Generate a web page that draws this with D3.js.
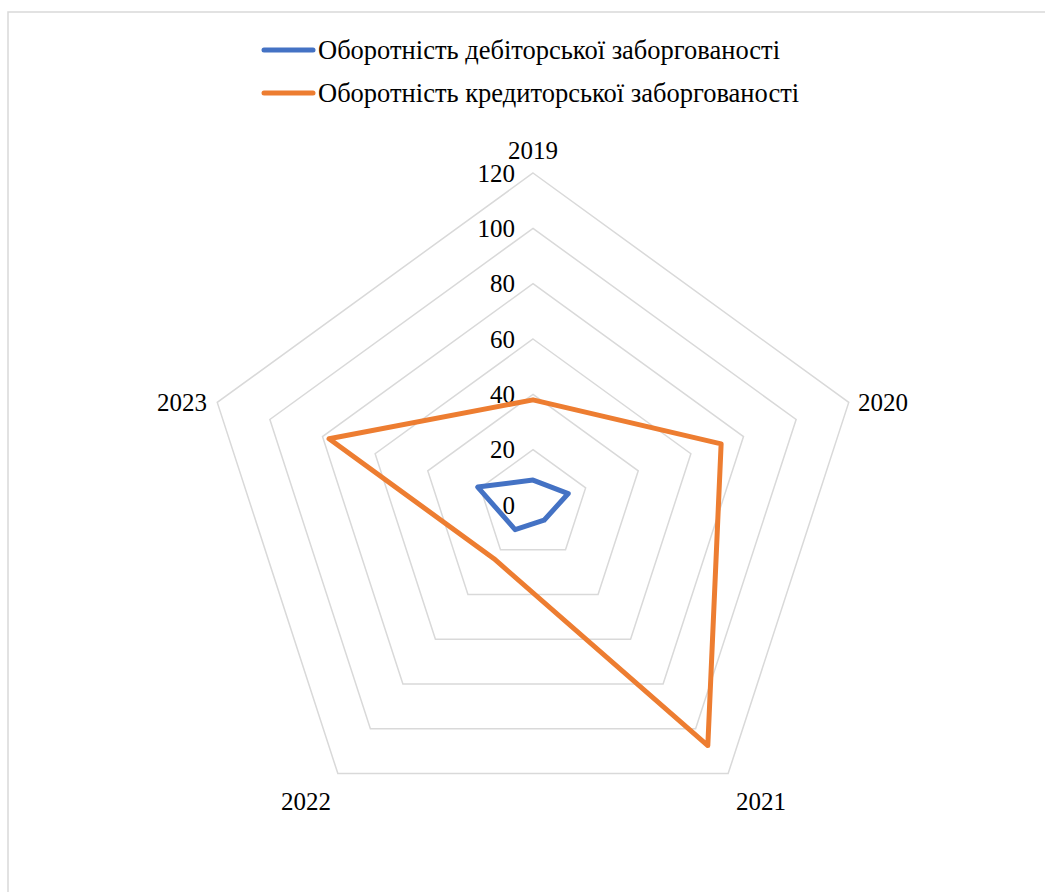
<!DOCTYPE html>
<html>
<head>
<meta charset="utf-8">
<script src="https://cdn.jsdelivr.net/npm/d3@7"></script>
<style>
  body { margin: 0; background: #fff; }
</style>
</head>
<body>
<script>
// дані
const years = ["2019", "2020", "2021", "2022", "2023"];
const seriesNames = ["Оборотність дебіторської заборгованості", "Оборотність кредиторської заборгованості"];
const receivables = [9, 13.4, 6.8, 11, 21];
const payables = [38, 71.5, 107.5, 24, 77.5];
const ticks = [0, 20, 40, 60, 80, 100, 120];
const colors = ["#4472C4", "#ED7D31"];

const width = 1045, height = 892;
const cx = 533, cy = 505, R = 332;
const font = "Liberation Serif";

const svg = d3.select("body").append("svg")
    .attr("width", width)
    .attr("height", height);

// рамка
svg.append("rect")
    .attr("x", 8).attr("y", 12)
    .attr("width", 1100).attr("height", 1000)
    .attr("fill", "none")
    .attr("stroke", "#d9d9d9")
    .attr("stroke-width", 1.5);

const r = d3.scaleLinear().domain([0, 120]).range([0, R]);
const angle = i => i * 2 * Math.PI / years.length;
const pt = (i, v) => [cx + r(v) * Math.sin(angle(i)), cy - r(v) * Math.cos(angle(i))];

// сітка
svg.append("g").selectAll("polygon")
    .data(ticks.filter(t => t > 0))
    .enter()
    .append("polygon")
    .attr("points", t => years.map((d, i) => pt(i, t).join(",")).join(" "))
    .attr("fill", "none")
    .attr("stroke", "#d9d9d9")
    .attr("stroke-width", 1.5);

// підписи осі
svg.append("g").selectAll("text")
    .data(ticks)
    .enter()
    .append("text")
    .attr("x", cx - 18)
    .attr("y", t => cy - r(t))
    .attr("dy", "0.35em")
    .attr("text-anchor", "end")
    .style("font-family", font)
    .style("font-size", "25px")
    .text(t => t);

// підписи років
const labelPos = [
    { x: cx, y: 150, a: "middle" },
    { x: 858, y: 402, a: "start" },
    { x: 761, y: 801, a: "middle" },
    { x: 306, y: 801, a: "middle" },
    { x: 207, y: 402, a: "end" }
];
svg.append("g").selectAll("text")
    .data(years)
    .enter()
    .append("text")
    .attr("x", (d, i) => labelPos[i].x)
    .attr("y", (d, i) => labelPos[i].y)
    .attr("dy", "0.35em")
    .attr("text-anchor", (d, i) => labelPos[i].a)
    .style("font-family", font)
    .style("font-size", "25px")
    .text(d => d);

// лінії серій
const line = d3.line().curve(d3.curveLinearClosed);
[receivables, payables].forEach((vals, k) => {
    svg.append("path")
        .attr("d", line(vals.map((v, i) => pt(i, v))))
        .attr("fill", "none")
        .attr("stroke", colors[k])
        .attr("stroke-width", 5)
        .attr("stroke-linejoin", "round");
});

// легенда
const legend = svg.append("g").selectAll("g")
    .data(seriesNames)
    .enter()
    .append("g")
    .attr("transform", (d, i) => "translate(264," + (50 + i * 43) + ")");

legend.append("line")
    .attr("x1", 0).attr("x2", 49)
    .attr("stroke", (d, i) => colors[i])
    .attr("stroke-width", 5)
    .attr("stroke-linecap", "round");

legend.append("text")
    .attr("x", 54)
    .attr("dy", "0.35em")
    .style("font-family", font)
    .style("font-size", "26.5px")
    .text(d => d);
</script>
</body>
</html>
